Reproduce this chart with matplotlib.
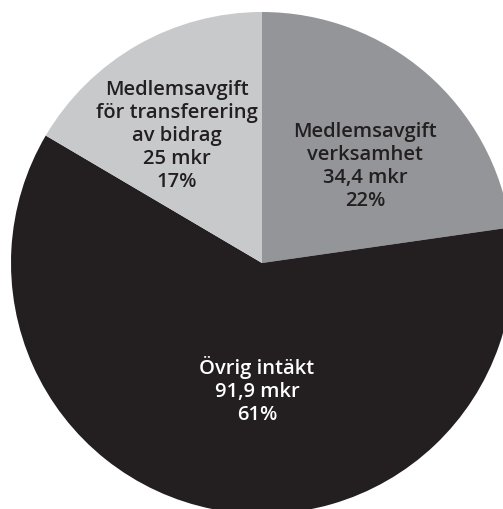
import matplotlib
matplotlib.use("Agg")
import matplotlib.pyplot as plt

labels = ["Medlemsavgift\nverksamhet", "Övrig intäkt", "Medlemsavgift\nför transferering\nav bidrag"]
values = [34.4, 91.9, 25]
amounts = ["34,4 mkr", "91,9 mkr", "25 mkr"]
percents = ["22%", "61%", "17%"]

colors = ["#939598", "#231f20", "#c8c9cb"]
text_colors = ["#231f20", "#ffffff", "#231f20"]
# label centres, in pie radius units
label_pos = [(0.41, 0.39), (-0.02, -0.505), (-0.34, 0.51)]

plt.rcParams['font.family'] = ['Open Sans', 'DejaVu Sans']

fig = plt.figure(figsize=(5.03, 5.10), dpi=100)
ax = fig.add_axes([0, 0, 1, 1])
ax.pie(values, colors=colors, startangle=90, counterclock=False, radius=1,
       wedgeprops=dict(linewidth=0))

for lab, amt, pct, pos, tc in zip(labels, amounts, percents, label_pos, text_colors):
    ax.text(pos[0], pos[1], f"{lab}\n{amt}\n{pct}", ha='center', va='center',
            color=tc, fontsize=14.5, fontweight='semibold', linespacing=1.2)

# pie is cropped by the figure edges, centre at (262, 264) px, radius 251 px
r = 251
ax.set_xlim(-262 / r, (503 - 262) / r)
ax.set_ylim(-(510 - 264) / r, 264 / r)
ax.set_aspect('auto')
ax.axis('off')

fig.savefig("out.png", dpi=100)
